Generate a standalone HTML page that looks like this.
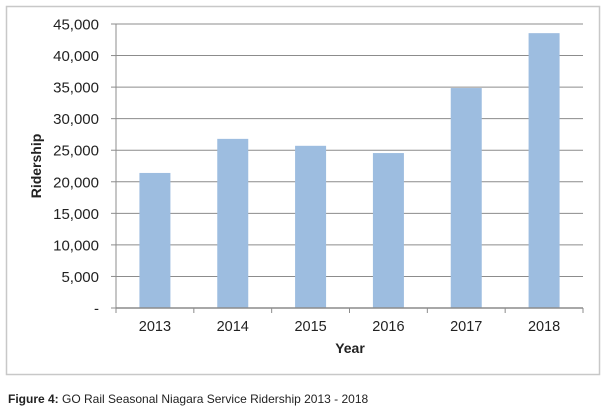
<!DOCTYPE html>
<html><head><meta charset="utf-8"><style>
body{margin:0;background:#fff;width:607px;height:415px;overflow:hidden;font-family:"Liberation Sans",sans-serif;}
</style></head><body>
<svg width="607" height="415">
<rect x="6.5" y="6.5" width="593" height="368" fill="#fff" stroke="#c8c8c8" stroke-width="1.5"/>
<g id="grid"></g><g id="bars"></g><g id="axes"></g>
<text x="41" y="166" transform="rotate(-90 41 166)" text-anchor="middle" font-size="14" font-weight="bold" fill="#222">Ridership</text>
<text x="350" y="353" text-anchor="middle" font-size="14" font-weight="bold" fill="#222">Year</text>
<text x="8" y="403" font-size="12" fill="#222"><tspan font-weight="bold">Figure 4:</tspan> GO Rail Seasonal Niagara Service Ridership 2013 - 2018</text>
</svg>
<script>
const categories=["2013","2014","2015","2016","2017","2018"];
const ridership=[21400,26800,25700,24550,34850,43550];
const yTicks=[0,5000,10000,15000,20000,25000,30000,35000,40000,45000];
const yTickLabels=["-","5,000","10,000","15,000","20,000","25,000","30,000","35,000","40,000","45,000"];
const NS="http://www.w3.org/2000/svg";
const L=116,R=583,T=24,B=308,yMax=45000;
const y=v=>B-(v/yMax)*(B-T);
const bw=(R-L)/categories.length;
const x=i=>L+bw*(i+0.5);
function mk(tag,attrs,parent){const e=document.createElementNS(NS,tag);for(const k in attrs)e.setAttribute(k,attrs[k]);document.getElementById(parent).appendChild(e);return e;}
yTicks.forEach((t,i)=>{
 if(t>0){const g=mk('line',{x1:L,x2:R,y1:y(t),y2:y(t),stroke:'#8c8c8c','stroke-width':1},'grid');
 
 }
 const tk=mk('line',{x1:L-5,x2:L,y1:y(t),y2:y(t),stroke:'#8c8c8c'},'axes');
 
 
 const lb=mk('text',{x:L-17,y:y(t)+5.5,'text-anchor':'end','font-size':15,fill:'#222'},'axes');
 lb.textContent=yTickLabels[i];
 
 
});
categories.forEach((c,i)=>{
 const b=mk('rect',{x:x(i)-15.5,y:y(ridership[i]),width:31,height:B-y(ridership[i]),fill:'#9dbde0'},'bars');
 
 
 const lb=mk('text',{x:x(i),y:B+23,'text-anchor':'middle','font-size':14.5,fill:'#222'},'axes');
 lb.textContent=c;
 
 
});
for(let i=0;i<=categories.length;i++){
 const tk=mk('line',{x1:L+bw*i,x2:L+bw*i,y1:B,y2:B+5,stroke:'#8c8c8c'},'axes');
 
 
}
const ax=mk('line',{x1:L,x2:L,y1:T,y2:B,stroke:'#8c8c8c'},'axes');


const xa=mk('line',{x1:L,x2:R,y1:B,y2:B,stroke:'#8c8c8c','stroke-width':1.5},'axes');


</script>
</body></html>
